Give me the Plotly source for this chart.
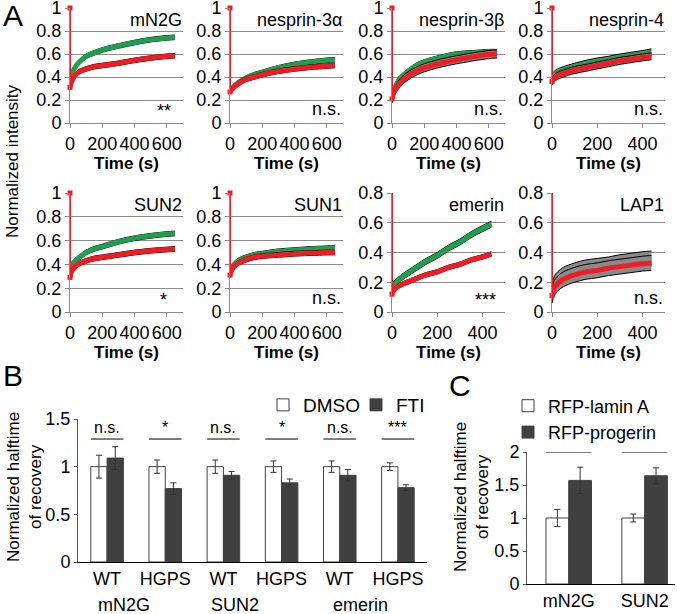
import plotly.graph_objects as go

W, H = 677, 614
FONT = 'Liberation Sans'

# ---- panel A: FRAP recovery curves (green = WT, red = HGPS) ----
panels = ['mN2G', 'nesprin-3α', 'nesprin-3β', 'nesprin-4', 'SUN2', 'SUN1', 'emerin', 'LAP1']
signif = ['**', 'n.s.', 'n.s.', 'n.s.', '*', 'n.s.', '***', 'n.s.']
prebleach = 1.0

t_long = [0, 10, 25, 50, 100, 150, 200, 300, 400, 500, 600, 650]
t_short = [0, 10, 25, 50, 100, 150, 200, 250, 300, 350, 400, 440]

mN2G_wt = [0.38, 0.42, 0.47, 0.52, 0.58, 0.61, 0.635, 0.67, 0.70, 0.725, 0.74, 0.745]
mN2G_hgps = [0.31, 0.36, 0.40, 0.44, 0.47, 0.49, 0.50, 0.52, 0.545, 0.565, 0.58, 0.585]
nesp3a_wt = [0.27, 0.30, 0.32, 0.35, 0.39, 0.42, 0.44, 0.48, 0.51, 0.53, 0.545, 0.55]
nesp3a_hgps = [0.27, 0.29, 0.31, 0.34, 0.38, 0.40, 0.42, 0.45, 0.47, 0.485, 0.495, 0.50]
nesp3b_wt = [0.21, 0.28, 0.33, 0.39, 0.45, 0.50, 0.53, 0.57, 0.60, 0.61, 0.62, 0.62]
nesp3b_hgps = [0.21, 0.26, 0.30, 0.35, 0.41, 0.45, 0.48, 0.52, 0.55, 0.575, 0.595, 0.60]
nesp4_wt = [0.40, 0.42, 0.44, 0.46, 0.49, 0.515, 0.535, 0.55, 0.57, 0.585, 0.60, 0.615]
nesp4_hgps = [0.36, 0.39, 0.41, 0.43, 0.46, 0.48, 0.50, 0.52, 0.54, 0.555, 0.57, 0.58]
SUN2_wt = [0.36, 0.39, 0.42, 0.45, 0.50, 0.53, 0.55, 0.59, 0.62, 0.64, 0.655, 0.66]
SUN2_hgps = [0.29, 0.34, 0.37, 0.40, 0.43, 0.45, 0.46, 0.48, 0.50, 0.515, 0.525, 0.53]
SUN1_wt = [0.33, 0.37, 0.40, 0.43, 0.46, 0.48, 0.49, 0.51, 0.52, 0.53, 0.535, 0.54]
SUN1_hgps = [0.31, 0.35, 0.38, 0.41, 0.44, 0.46, 0.47, 0.48, 0.49, 0.495, 0.50, 0.50]
emerin_wt = [0.17, 0.19, 0.21, 0.24, 0.29, 0.34, 0.38, 0.43, 0.47, 0.52, 0.56, 0.59]
emerin_hgps = [0.12, 0.15, 0.17, 0.19, 0.22, 0.25, 0.27, 0.30, 0.32, 0.35, 0.37, 0.39]
LAP1_wt = [0.13, 0.19, 0.22, 0.25, 0.28, 0.30, 0.31, 0.32, 0.335, 0.345, 0.355, 0.36]
LAP1_hgps = [0.11, 0.16, 0.19, 0.22, 0.25, 0.27, 0.28, 0.295, 0.305, 0.315, 0.325, 0.33]

err_wt = [0.02, 0.02, 0.02, 0.03, 0.02, 0.02, 0.02, 0.05]
err_hgps = [0.02, 0.02, 0.035, 0.03, 0.02, 0.02, 0.015, 0.05]

times = [t_long, t_long, t_long, t_short, t_long, t_long, t_short, t_short]
wt_curves = [mN2G_wt, nesp3a_wt, nesp3b_wt, nesp4_wt, SUN2_wt, SUN1_wt, emerin_wt, LAP1_wt]
hgps_curves = [mN2G_hgps, nesp3a_hgps, nesp3b_hgps, nesp4_hgps, SUN2_hgps, SUN1_hgps, emerin_hgps, LAP1_hgps]
y_max = [1, 1, 1, 1, 1, 1, 0.8, 0.8]

# ---- panel B: halftime, DMSO vs FTI ----
b_ticks = ['WT', 'HGPS', 'WT', 'HGPS', 'WT', 'HGPS']
b_genes = ['mN2G', 'SUN2', 'emerin']
dmso = [1.0, 1.0, 1.0, 1.0, 1.0, 1.0]
dmso_err = [0.12, 0.07, 0.07, 0.06, 0.06, 0.04]
fti = [1.09, 0.77, 0.91, 0.83, 0.91, 0.78]
fti_err = [0.12, 0.06, 0.04, 0.04, 0.06, 0.03]
b_sig = ['n.s.', '*', 'n.s.', '*', 'n.s.', '***']

# ---- panel C: halftime, lamin A vs progerin ----
c_genes = ['mN2G', 'SUN2']
lamin = [1.0, 1.0]
lamin_err = [0.13, 0.06]
progerin = [1.57, 1.64]
progerin_err = [0.2, 0.12]
c_sig = ['*', '***']

GREEN = '#1f9e4f'
RED = '#ee1c25'
DARK = '#404040'


def px_x(p):
    return p / W


def px_y(p):
    return 1 - p / H


fig = go.Figure()
layout = dict(width=W, height=H, margin=dict(l=0, r=0, t=0, b=0, autoexpand=False),
              plot_bgcolor='white', paper_bgcolor='white',
              font=dict(family=FONT, size=18, color='black'),
              showlegend=True)
annotations = []
shapes = []

col_left = [70, 230, 392, 552]
rows = [(8, 123), (193, 312)]

for i, name in enumerate(panels):
    n = i + 1
    sfx = '' if n == 1 else str(n)
    r, c = divmod(i, 4)
    top, bot = rows[r]
    t = times[i]
    xr = 700 if t[-1] > 500 else 500
    layout['xaxis' + sfx] = dict(domain=[px_x(col_left[c]), px_x(col_left[c] + 113)],
                                 anchor='y' + sfx, range=[0, xr], dtick=200, tickangle=0,
                                 showgrid=False, zeroline=False, showline=True, linecolor='#8c8c8c',
                                 ticks='outside', ticklen=4, tickcolor='#8c8c8c',
                                 tickfont=dict(size=18), ticklabeloverflow='allow',
                                 title=dict(text='<b>Time (s)</b>', font=dict(size=17), standoff=2))
    layout['yaxis' + sfx] = dict(domain=[px_y(bot), px_y(top)], anchor='x' + sfx,
                                 range=[0, y_max[i]], dtick=0.2, showgrid=True, gridcolor='#8c8c8c',
                                 zeroline=False, showline=True, linecolor='#8c8c8c',
                                 ticks='outside', ticklen=4, tickcolor='#8c8c8c',
                                 tickfont=dict(size=18), ticklabeloverflow='allow')
    xa, ya = 'x' + sfx, 'y' + sfx
    for vals, err, col in [(wt_curves[i], err_wt[i], GREEN), (hgps_curves[i], err_hgps[i], RED)]:
        up = [v + err for v in vals]
        lo = [v - err for v in vals]
        fig.add_trace(go.Scatter(x=t, y=up, mode='lines', line=dict(color='black', width=1, shape='spline'),
                                 xaxis=xa, yaxis=ya, showlegend=False, hoverinfo='skip'))
        fig.add_trace(go.Scatter(x=t, y=lo, mode='lines', line=dict(color='black', width=1, shape='spline'),
                                 fill='tonexty', fillcolor='#8a8a8a',
                                 xaxis=xa, yaxis=ya, showlegend=False, hoverinfo='skip'))
        fig.add_trace(go.Scatter(x=t, y=vals, mode='lines', line=dict(color=col, width=5, shape='spline'),
                                 xaxis=xa, yaxis=ya, showlegend=False))
    # bleach drop from prebleach intensity
    fig.add_trace(go.Scatter(x=[0, 0], y=[prebleach, hgps_curves[i][0]], mode='lines+markers',
                             line=dict(color=RED, width=2), marker=dict(color=RED, size=5, symbol='square'),
                             cliponaxis=False, xaxis=xa, yaxis=ya, showlegend=False))
    annotations.append(dict(text=name, xref=xa + ' domain', yref=ya + ' domain', x=1.01, y=0.9,
                            xanchor='right', yanchor='middle', showarrow=False, font=dict(size=18)))
    stars = signif[i] != 'n.s.'
    annotations.append(dict(text=signif[i], xref=xa + ' domain', yref=ya + ' domain',
                            x=0.83 if stars else 1.0, y=0.1 if stars else 0.12,
                            xanchor='center' if stars else 'right', yanchor='middle',
                            showarrow=False, font=dict(size=18)))

annotations.append(dict(text='Normalized intensity', xref='paper', yref='paper', x=px_x(12), y=px_y(161),
                        xanchor='center', yanchor='middle',
                        textangle=-90, showarrow=False, font=dict(size=17)))

# ---- panel B ----
bx = list(range(len(b_ticks)))
bw = 0.28
fig.add_trace(go.Bar(x=bx, y=dmso, name='DMSO', width=bw, offset=-bw,
                     marker=dict(color='white', line=dict(color=DARK, width=1)),
                     error_y=dict(type='data', array=dmso_err, color='#333', thickness=1, width=3),
                     xaxis='x9', yaxis='y9', legend='legend'))
fig.add_trace(go.Bar(x=bx, y=fti, name='FTI', width=bw, offset=0,
                     marker=dict(color=DARK, line=dict(color=DARK, width=1)),
                     error_y=dict(type='data', array=fti_err, color='#333', thickness=1, width=3),
                     xaxis='x9', yaxis='y9', legend='legend'))
layout['xaxis9'] = dict(domain=[px_x(78), px_x(427)], anchor='y9', range=[-0.5, 5.5],
                        tickvals=bx, ticktext=b_ticks, tickangle=0, showgrid=False, zeroline=False,
                        showline=True, linecolor='black', ticks='', tickfont=dict(size=18),
                        ticklabeloverflow='allow')
layout['yaxis9'] = dict(domain=[px_y(562), px_y(419)], anchor='x9', range=[0, 1.5], dtick=0.5,
                        showgrid=False, zeroline=False, showline=True, linecolor='#555',
                        ticks='outside', ticklen=3, tickcolor='#555', tickfont=dict(size=18))
for k, s in enumerate(b_sig):
    shapes.append(dict(type='line', xref='x9', yref='y9', x0=k - bw, x1=k + bw, y0=1.29, y1=1.29,
                       line=dict(color='black', width=1)))
    annotations.append(dict(text=s, xref='x9', yref='y9', x=k, y=1.3, xanchor='center', yanchor='bottom',
                            showarrow=False, font=dict(size=16)))
for g, xg in zip(b_genes, [0.29, 2.2, 4.36]):
    annotations.append(dict(text=g, xref='x9', yref='paper', x=xg, y=px_y(605), xanchor='center',
                            yanchor='middle', showarrow=False, font=dict(size=18)))
annotations.append(dict(text='Normalized halftime<br>of recovery', xref='paper', yref='paper',
                        x=px_x(24), y=px_y(487), xanchor='center', yanchor='middle',
                        textangle=-90, showarrow=False, font=dict(size=17)))

# ---- panel C ----
cx = list(range(len(c_genes)))
cw = 0.3
fig.add_trace(go.Bar(x=cx, y=lamin, name='RFP-lamin A', width=cw, offset=-cw,
                     marker=dict(color='white', line=dict(color=DARK, width=1)),
                     error_y=dict(type='data', array=lamin_err, color='#333', thickness=1, width=3),
                     xaxis='x10', yaxis='y10', legend='legend2'))
fig.add_trace(go.Bar(x=cx, y=progerin, name='RFP-progerin', width=cw, offset=0,
                     marker=dict(color=DARK, line=dict(color=DARK, width=1)),
                     error_y=dict(type='data', array=progerin_err, color='#333', thickness=1, width=3),
                     xaxis='x10', yaxis='y10', legend='legend2'))
layout['xaxis10'] = dict(domain=[px_x(527), px_x(675)], anchor='y10', range=[-0.55, 1.4],
                         tickvals=cx, ticktext=c_genes, tickangle=0, showgrid=False, zeroline=False,
                         showline=True, linecolor='black', ticks='', tickfont=dict(size=18),
                         ticklabeloverflow='allow')
layout['yaxis10'] = dict(domain=[px_y(584), px_y(452)], anchor='x10', range=[0, 2], dtick=0.5,
                         showgrid=False, zeroline=False, showline=True, linecolor='#555',
                         ticks='outside', ticklen=3, tickcolor='#555', tickfont=dict(size=18))
for k, s in enumerate(c_sig):
    shapes.append(dict(type='line', xref='x10', yref='y10', x0=k - cw, x1=k + cw, y0=2, y1=2,
                       line=dict(color='black', width=1)))
    annotations.append(dict(text=s, xref='x10', yref='y10', x=k, y=2.02, xanchor='center', yanchor='bottom',
                            showarrow=False, font=dict(size=16)))
annotations.append(dict(text='Normalized halftime<br>of recovery', xref='paper', yref='paper',
                        x=px_x(471), y=px_y(497), xanchor='center', yanchor='middle',
                        textangle=-90, showarrow=False, font=dict(size=17)))

# panel letters
for letter, lx, ly in [('A', 13, 15), ('B', 13, 375), ('C', 460, 386)]:
    annotations.append(dict(text=letter, xref='paper', yref='paper', x=px_x(lx), y=px_y(ly),
                            xanchor='center', yanchor='middle', showarrow=False, font=dict(size=30)))

layout['legend'] = dict(orientation='h', x=px_x(263), y=px_y(405), xanchor='left', yanchor='middle',
                        font=dict(size=19), itemwidth=30, entrywidth=48, traceorder='normal',
                        bgcolor='rgba(0,0,0,0)')
layout['legend2'] = dict(orientation='v', x=px_x(508), y=px_y(419), xanchor='left', yanchor='middle',
                         font=dict(size=18), itemwidth=30, traceorder='normal',
                         bgcolor='rgba(0,0,0,0)', tracegroupgap=0)
layout['barmode'] = 'overlay'
layout['annotations'] = annotations
layout['shapes'] = shapes
fig.update_layout(**layout)

# the default page keeps an 8px body margin; drop it so the figure fills the window
fig.write_html("out.html", config={'displayModeBar': False},
               post_script="document.body.style.margin = '0px';")
